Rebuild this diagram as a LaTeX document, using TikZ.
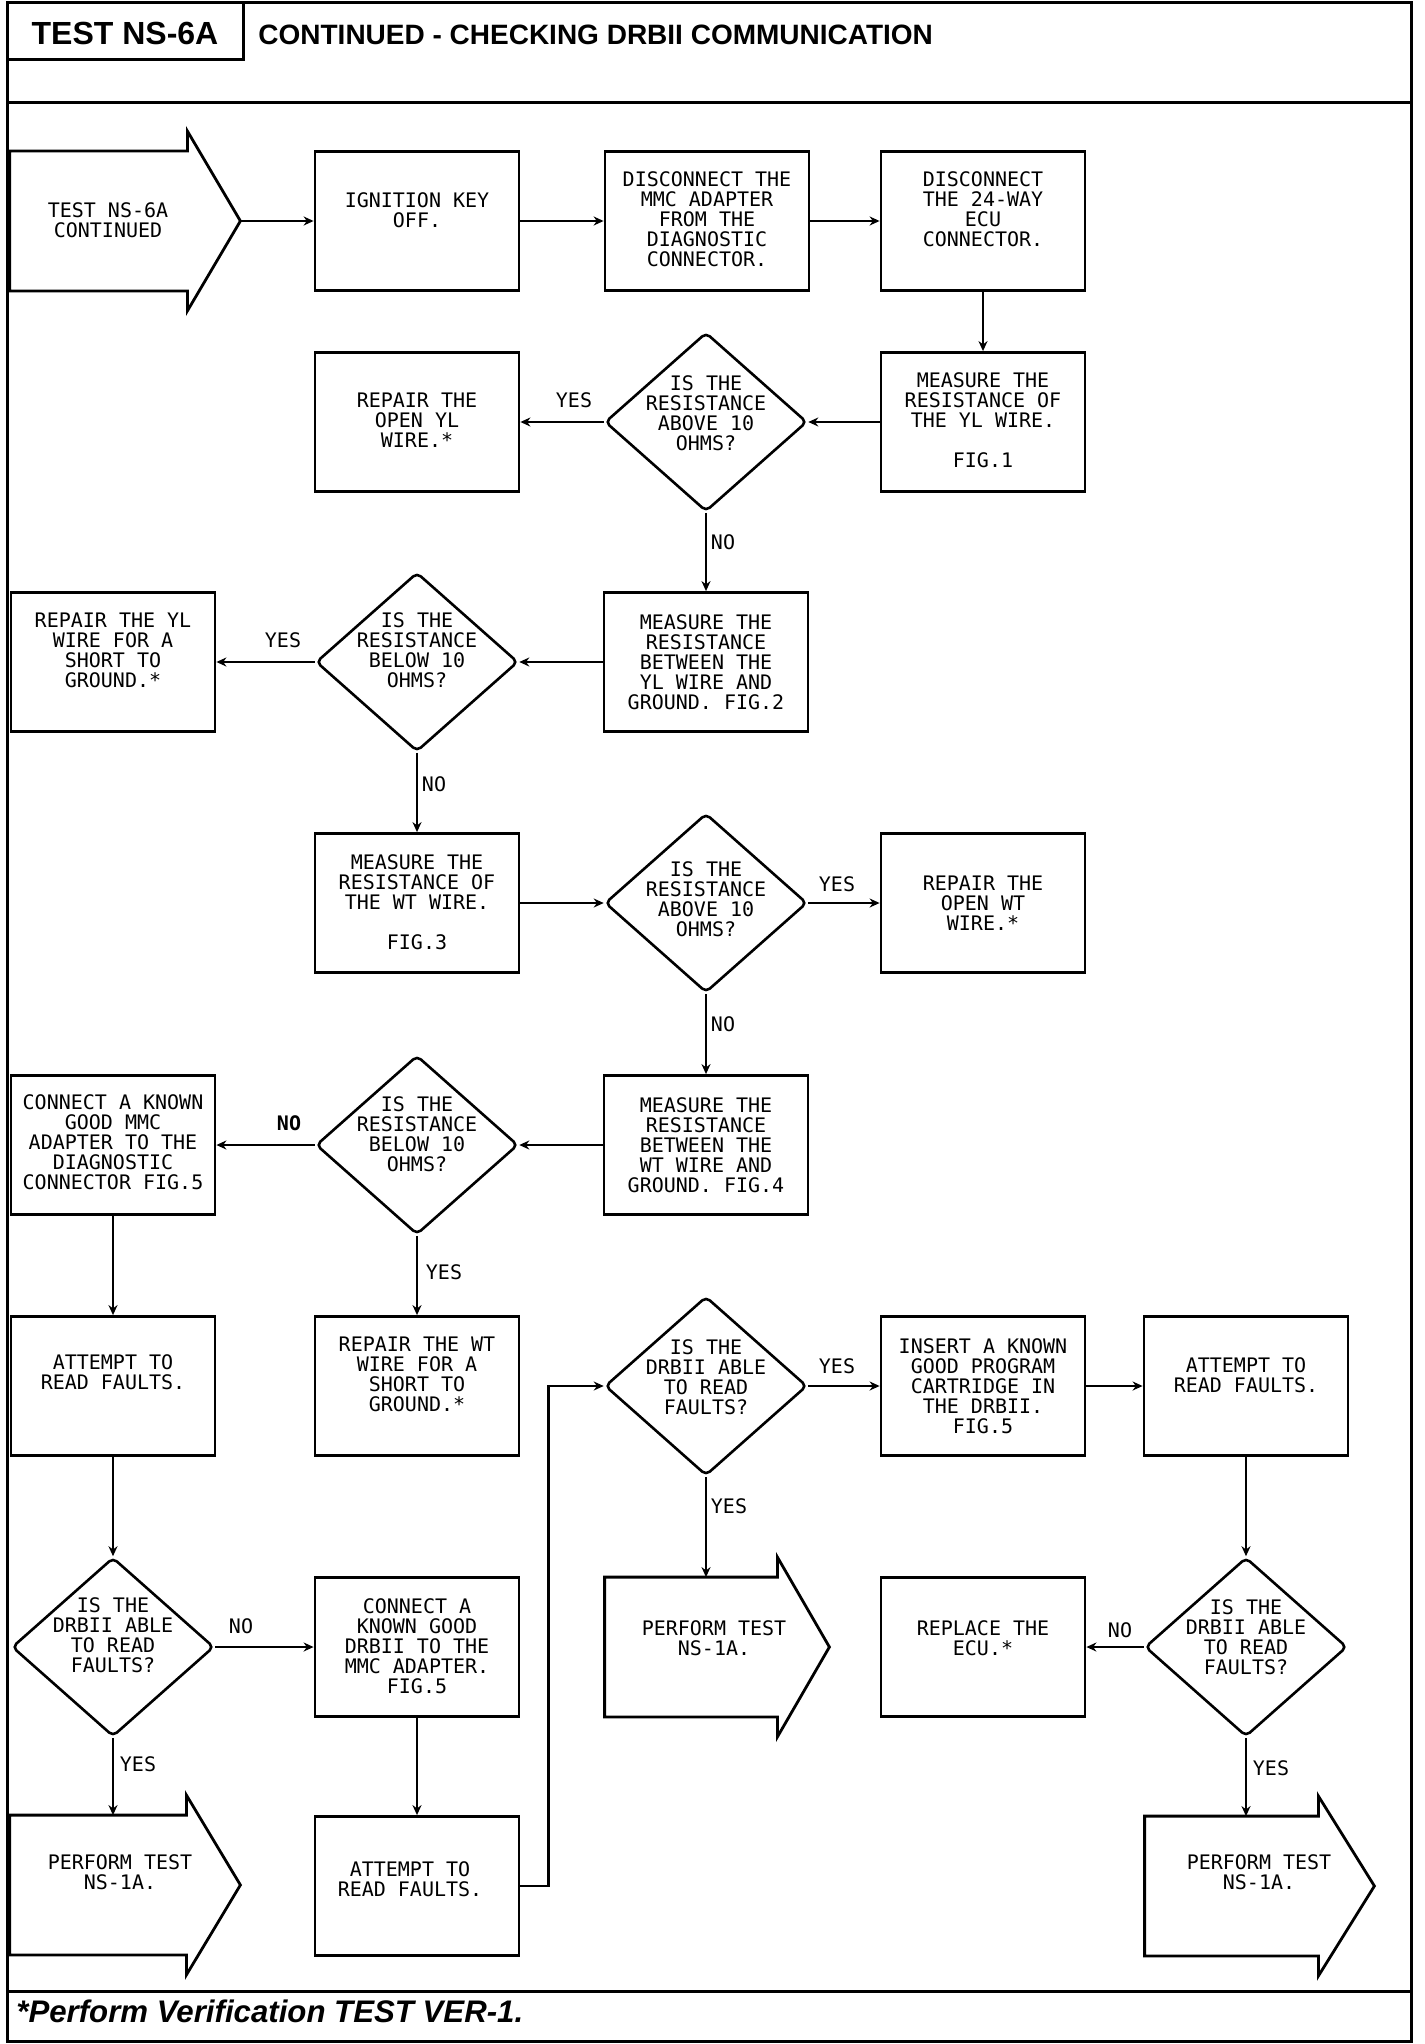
\documentclass[tikz,border=0pt]{standalone}
\usepackage{fontspec}
\setmainfont{Liberation Sans}
\newfontfamily\plotfont{DejaVu Sans Mono}
\usetikzlibrary{shapes.geometric,arrows.meta,calc}
\newcommand\bigarrow[2]{\draw[line width=1.4pt] (#1.south west) -- (#1.north west) -- (#1.north east) -- ([yshift=10pt]#1.north east) -- ([xshift=#2]#1.east) -- ([yshift=-10pt]#1.south east) -- (#1.south east) -- cycle;}
\begin{document}
\begin{tikzpicture}[x=0.5pt,y=-0.5pt,
  box/.style={draw, line width=1.4pt, minimum width=102pt, minimum height=69.5pt, inner sep=0pt},
  dia/.style={draw, diamond, line width=1.3pt, minimum width=101pt, minimum height=89.5pt, inner sep=0pt, rounded corners=2.5pt},
  arrbody/.style={inner sep=0pt, minimum height=69.5pt},
  txt/.style={font=\plotfont\fontsize{10pt}{10pt}\selectfont, align=center, inner sep=0pt},
  lbl/.style={font=\plotfont\fontsize{10pt}{10pt}\selectfont, inner sep=0pt},
  conn/.style={line width=1.1pt, -{Stealth[length=5pt,width=4.5pt]}},
  frame/.style={line width=1.5pt},
]
\useasboundingbox (0,0) rectangle (1424,2044);
% frame
\draw[frame] (7,3) rectangle (1411,2041);
\draw[frame] (7,103) -- (1411,103);
\draw[frame] (7,1991) -- (1411,1991);
\draw[frame] (7,3) rectangle (243,60);
\node[font=\bfseries\fontsize{16pt}{16pt}\selectfont, inner sep=0pt] (title1) at (125,33) {TEST NS-6A};
\node[font=\bfseries\fontsize{14pt}{14pt}\selectfont, anchor=west, inner sep=0pt] (title2) at (258,35) {CONTINUED - CHECKING DRBII COMMUNICATION};
\node[font=\bfseries\itshape\fontsize{15.6pt}{15.6pt}\selectfont, anchor=west, inner sep=0pt] (foot) at (16,2011) {*Perform Verification TEST VER-1.};

% big arrows
\node[arrbody, minimum width=88.5pt] (start) at (98.5,221) {};
\bigarrow{start}{26.5pt}
\coordinate (start-tip) at ([xshift=26.5pt]start.east);
\node[arrbody, minimum width=86pt] (mid) at (691,1647) {};
\bigarrow{mid}{26pt}
\node[arrbody, minimum width=88pt] (bl) at (98,1885) {};
\bigarrow{bl}{27pt}
\node[arrbody, minimum width=86.5pt] (br) at (1231.5,1886) {};
\bigarrow{br}{28pt}

% boxes
\node[box] (ign) at (417,221) {};
\node[box] (mmc) at (707,221) {};
\node[box] (ecu24) at (983,221) {};
\node[box] (repyl) at (417,422) {};
\node[box] (measyl) at (983,422) {};
\node[box] (repshyl) at (113,662) {};
\node[box] (measylg) at (706,662) {};
\node[box] (measwt) at (417,903) {};
\node[box] (repwt) at (983,903) {};
\node[box] (conmmc) at (113,1145) {};
\node[box] (measwtg) at (706,1145) {};
\node[box] (attA) at (113,1386) {};
\node[box] (repshwt) at (417,1386) {};
\node[box] (insert) at (983,1386) {};
\node[box] (attE) at (1246,1386) {};
\node[box] (condrb) at (417,1647) {};
\node[box] (replace) at (983,1647) {};
\node[box] (attB2) at (417,1886) {};

% diamonds
\node[dia] (d1) at (706,422) {};
\node[dia] (d2) at (417,662) {};
\node[dia] (d3) at (706,903) {};
\node[dia] (d4) at (417,1145) {};
\node[dia] (d5) at (706,1386) {};
\node[dia] (d6) at (113,1647) {};
\node[dia] (d7) at (1246,1647) {};

% texts
\node[txt] (t-start) at (108,220) {TEST NS-6A\\CONTINUED};
\node[txt] (t-ign) at (417,210) {IGNITION KEY\\OFF.};
\node[txt] (t-mmc) at (707,219) {DISCONNECT THE\\MMC ADAPTER\\FROM THE\\DIAGNOSTIC\\CONNECTOR.};
\node[txt] (t-ecu24) at (983,209) {DISCONNECT\\THE 24-WAY\\ECU\\CONNECTOR.};
\node[txt] (t-repyl) at (417,420) {REPAIR THE\\OPEN YL\\WIRE.*};
\node[txt] (t-d1) at (706,413) {IS THE\\RESISTANCE\\ABOVE 10\\OHMS?};
\node[txt] (t-measyl) at (983,420) {MEASURE THE\\RESISTANCE OF\\THE YL WIRE.\\[10pt]FIG.1};
\node[txt] (t-repshyl) at (113,650) {REPAIR THE YL\\WIRE FOR A\\SHORT TO\\GROUND.*};
\node[txt] (t-d2) at (417,650) {IS THE\\RESISTANCE\\BELOW 10\\OHMS?};
\node[txt] (t-measylg) at (706,662) {MEASURE THE\\RESISTANCE\\BETWEEN THE\\YL WIRE AND\\GROUND. FIG.2};
\node[txt] (t-measwt) at (417,902) {MEASURE THE\\RESISTANCE OF\\THE WT WIRE.\\[10pt]FIG.3};
\node[txt] (t-d3) at (706,899) {IS THE\\RESISTANCE\\ABOVE 10\\OHMS?};
\node[txt] (t-repwt) at (983,903) {REPAIR THE\\OPEN WT\\WIRE.*};
\node[txt] (t-conmmc) at (113,1142) {CONNECT A KNOWN\\GOOD MMC\\ADAPTER TO THE\\DIAGNOSTIC\\CONNECTOR FIG.5};
\node[txt] (t-d4) at (417,1134) {IS THE\\RESISTANCE\\BELOW 10\\OHMS?};
\node[txt] (t-measwtg) at (706,1145) {MEASURE THE\\RESISTANCE\\BETWEEN THE\\WT WIRE AND\\GROUND. FIG.4};
\node[txt] (t-attA) at (113,1372) {ATTEMPT TO\\READ FAULTS.};
\node[txt] (t-repshwt) at (417,1374) {REPAIR THE WT\\WIRE FOR A\\SHORT TO\\GROUND.*};
\node[txt] (t-d5) at (706,1377) {IS THE\\DRBII ABLE\\TO READ\\FAULTS?};
\node[txt] (t-insert) at (983,1386) {INSERT A KNOWN\\GOOD PROGRAM\\CARTRIDGE IN\\THE DRBII.\\FIG.5};
\node[txt] (t-attE) at (1246,1375) {ATTEMPT TO\\READ FAULTS.};
\node[txt] (t-d6) at (113,1635) {IS THE\\DRBII ABLE\\TO READ\\FAULTS?};
\node[txt] (t-condrb) at (417,1646) {CONNECT A\\KNOWN GOOD\\DRBII TO THE\\MMC ADAPTER.\\FIG.5};
\node[txt] (t-mid) at (714,1638) {PERFORM TEST\\NS-1A.};
\node[txt] (t-replace) at (983,1638) {REPLACE THE\\ECU.*};
\node[txt] (t-d7) at (1246,1637) {IS THE\\DRBII ABLE\\TO READ\\FAULTS?};
\node[txt] (t-bl) at (120,1872) {PERFORM TEST\\NS-1A.};
\node[txt] (t-attB2) at (410,1879) {ATTEMPT TO\\READ FAULTS.};
\node[txt] (t-br) at (1259,1872) {PERFORM TEST\\NS-1A.};

% connectors
\draw[conn] (start-tip) -- (ign.west);
\draw[conn] (ign.east) -- (mmc.west);
\draw[conn] (mmc.east) -- (ecu24.west);
\draw[conn] (ecu24.south) -- (measyl.north);
\draw[conn] (measyl.west) -- (d1.east);
\draw[conn] (d1.west) -- (repyl.east);
\draw[conn] (d1.south) -- (measylg.north);
\draw[conn] (measylg.west) -- (d2.east);
\draw[conn] (d2.west) -- (repshyl.east);
\draw[conn] (d2.south) -- (measwt.north);
\draw[conn] (measwt.east) -- (d3.west);
\draw[conn] (d3.east) -- (repwt.west);
\draw[conn] (d3.south) -- (measwtg.north);
\draw[conn] (measwtg.west) -- (d4.east);
\draw[conn] (d4.west) -- (conmmc.east);
\draw[conn] (d4.south) -- (repshwt.north);
\draw[conn] (conmmc.south) -- (attA.north);
\draw[conn] (attA.south) -- (d6.north);
\draw[conn] (d6.east) -- (condrb.west);
\draw[conn] (d6.south) -- (d6.south |- bl.north);
\draw[conn] (condrb.south) -- (attB2.north);
\draw[conn] (attB2.east) -- ++(28,0) |- (d5.west);
\draw[conn] (d5.east) -- (insert.west);
\draw[conn] (d5.south) -- (d5.south |- mid.north);
\draw[conn] (insert.east) -- (attE.west);
\draw[conn] (attE.south) -- (d7.north);
\draw[conn] (d7.west) -- (replace.east);
\draw[conn] (d7.south) -- (d7.south |- br.north);

% labels
\node[lbl] (l1) at (574,400) {YES};
\node[lbl] (l2) at (723,542) {NO};
\node[lbl] (l3) at (283,640) {YES};
\node[lbl] (l4) at (434,784) {NO};
\node[lbl] (l5) at (837,884) {YES};
\node[lbl] (l6) at (723,1024) {NO};
\node[lbl, font=\plotfont\bfseries\fontsize{10pt}{10pt}\selectfont] (l7) at (289,1123) {NO};
\node[lbl] (l8) at (444,1272) {YES};
\node[lbl] (l9) at (837,1366) {YES};
\node[lbl] (l10) at (729,1506) {YES};
\node[lbl] (l11) at (241,1626) {NO};
\node[lbl] (l12) at (138,1764) {YES};
\node[lbl] (l13) at (1120,1630) {NO};
\node[lbl] (l14) at (1271,1768) {YES};
\end{tikzpicture}
\end{document}
